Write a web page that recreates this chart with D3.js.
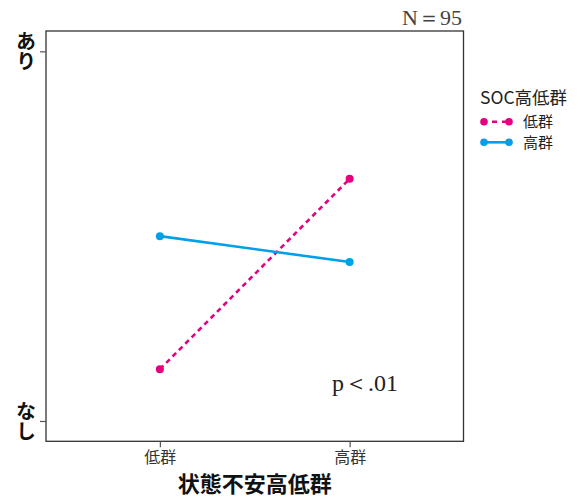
<!DOCTYPE html>
<html>
<head>
<meta charset="utf-8">
<script src="https://cdn.jsdelivr.net/npm/d3@7"></script>
<style>
  html, body { margin: 0; padding: 0; background: #fff; }
  svg { display: block; }
  .sans { font-family: "Noto Sans CJK JP", "Noto Sans", sans-serif; }
  .serif { font-family: "Liberation Serif", "DejaVu Serif", serif; }
</style>
</head>
<body>
<div id="chart"></div>
<script>
// Interaction plot: state anxiety group (x) by SOC group (series)
const xCategories = ["低群", "高群"];
const yTickValues = [0, 1];
const yTickLabels = ["なし", "あり"];
const seriesNames = ["低群", "高群"];
const lowSOCValues = [0.14, 0.655];
const highSOCValues = [0.50, 0.43];
const seriesColors = ["#e4007f", "#00a0e9"];
const seriesDash = ["5,4", null];

const width = 582, height = 497;
const panel = { left: 46, right: 463.5, top: 31, bottom: 441.3 };

const svg = d3.select("#chart").append("svg")
  .attr("width", width).attr("height", height);

const x = d3.scalePoint()
  .domain(xCategories)
  .range([panel.left, panel.right])
  .padding(0.6);

const y = d3.scaleLinear()
  .domain([-0.055, 1.055])
  .range([panel.bottom, panel.top]);

// panel frame
svg.append("rect")
  .attr("x", panel.left).attr("y", panel.top)
  .attr("width", panel.right - panel.left)
  .attr("height", panel.bottom - panel.top)
  .attr("fill", "none").attr("stroke", "#333").attr("stroke-width", 1.3);

// x axis
const xAxis = svg.append("g")
  .attr("transform", `translate(0,${panel.bottom})`)
  .call(d3.axisBottom(x).tickSize(6).tickPadding(4));
xAxis.select(".domain").remove();
xAxis.selectAll(".tick line").attr("stroke", "#555").attr("stroke-width", 1.2);
xAxis.selectAll(".tick text")
  .attr("class", "sans").attr("font-size", 16).attr("fill", "#333");

// y axis; labels are set vertically, one character above the other
const yAxis = svg.append("g")
  .attr("transform", `translate(${panel.left},0)`)
  .call(d3.axisLeft(y).tickValues(yTickValues).tickSize(6).tickFormat(() => ""));
yAxis.select(".domain").remove();
yAxis.selectAll(".tick line").attr("stroke", "#555").attr("stroke-width", 1.2);

svg.selectAll(".ylabel").data(yTickValues).enter().append("text")
  .attr("class", "sans ylabel")
  .attr("x", 26).attr("y", d => y(d))
  .attr("writing-mode", "vertical-rl")
  .style("writing-mode", "vertical-rl")
  .style("text-orientation", "upright")
  .attr("text-anchor", "middle")
  .attr("font-size", 20).attr("font-weight", "bold").attr("fill", "#111")
  .text((d, i) => yTickLabels[i]);

// series
const series = [lowSOCValues, highSOCValues];
const line = d3.line().x((d, i) => x(xCategories[i])).y(d => y(d));
series.forEach((vals, s) => {
  svg.append("path")
    .datum(vals)
    .attr("d", line)
    .attr("fill", "none")
    .attr("stroke", seriesColors[s])
    .attr("stroke-width", 2.6)
    .attr("stroke-dasharray", seriesDash[s]);
  svg.selectAll(null).data(vals).enter().append("circle")
    .attr("cx", (d, i) => x(xCategories[i]))
    .attr("cy", d => y(d))
    .attr("r", 4)
    .attr("fill", seriesColors[s]);
});

// x axis title
svg.append("text").attr("class", "sans")
  .attr("x", (panel.left + panel.right) / 2).attr("y", 492)
  .attr("text-anchor", "middle")
  .attr("font-size", 22).attr("font-weight", "bold").attr("fill", "#111")
  .text("状態不安高低群");

// sample size and significance
svg.append("text").attr("class", "serif")
  .attr("x", 462).attr("y", 25).attr("text-anchor", "end")
  .attr("font-size", 22).attr("fill", "#444")
  .text("N＝95");
svg.append("text").attr("class", "serif")
  .attr("x", 332).attr("y", 391)
  .attr("font-size", 24).attr("fill", "#222")
  .text("p＜.01");

// legend
const legend = svg.append("g").attr("transform", "translate(478,0)");
legend.append("text").attr("class", "sans")
  .attr("x", 2).attr("y", 104)
  .attr("font-size", 17.5).attr("fill", "#222")
  .text("SOC高低群");
seriesNames.forEach((name, s) => {
  const ly = 121.7 + s * 20.6;
  legend.append("line")
    .attr("x1", 6).attr("x2", 31).attr("y1", ly).attr("y2", ly)
    .attr("stroke", seriesColors[s]).attr("stroke-width", 2.6)
    .attr("stroke-dasharray", seriesDash[s] ? "5,5" : null)
    .attr("stroke-dashoffset", seriesDash[s] ? -8 : null);
  [6, 31].forEach(cx => legend.append("circle")
    .attr("cx", cx).attr("cy", ly).attr("r", 3.8).attr("fill", seriesColors[s]));
  legend.append("text").attr("class", "sans")
    .attr("x", 45).attr("y", ly).attr("dy", "0.36em")
    .attr("font-size", 15).attr("fill", "#222")
    .text(name);
});
</script>
</body>
</html>
